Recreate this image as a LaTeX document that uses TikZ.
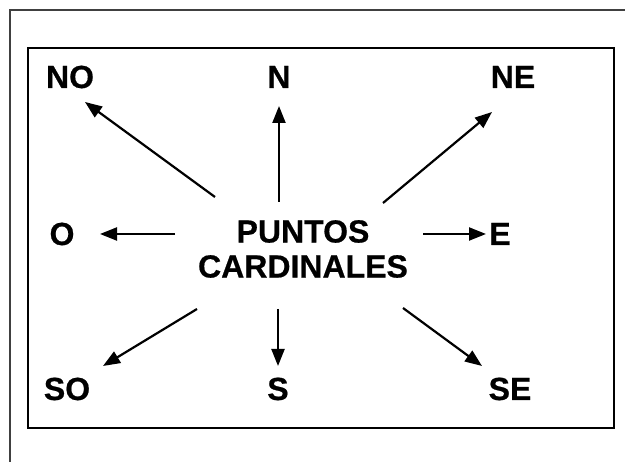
\documentclass[tikz,border=0pt]{standalone}
\usepackage{fontspec}
\setmainfont[BoldFeatures={FakeBold=0.6}]{Liberation Sans}
\usetikzlibrary{arrows.meta}

\begin{document}
\begin{tikzpicture}[x=1pt,y=-1pt,>={Triangle[length=17pt,width=13pt]},
    punto/.style={font=\fontsize{32}{35}\selectfont\bfseries, inner sep=0pt, anchor=base},
    flecha/.style={->, line width=2.2pt}]
        \useasboundingbox (0,0) rectangle (625,462);

        % marcos
        \draw[black!75, line width=1.5pt] (10,462) -- (10,10) -- (625,10);
        \draw[line width=2pt] (28,48) rectangle (614,428);

        % textos
        \node[font=\fontsize{32}{35}\selectfont\bfseries, inner sep=0pt, align=center] (centro) at (303,249) {PUNTOS\\CARDINALES};
        \node[punto] (no) at (70,88) {NO};
        \node[punto] (n) at (279,88) {N};
        \node[punto] (ne) at (513,88) {NE};
        \node[punto] (o) at (62,245) {O};
        \node[punto] (e) at (500,245) {E};
        \node[punto] (so) at (67,400) {SO};
        \node[punto] (s) at (278,400) {S};
        \node[punto] (se) at (510,400) {SE};

        % extremos de las flechas
        \coordinate (noA) at (215,197);
        \coordinate (noB) at (85,102);
        \coordinate (nA) at (279,202);
        \coordinate (nB) at (279,106);
        \coordinate (neA) at (383,203);
        \coordinate (neB) at (492,112);
        \coordinate (oA) at (175,234);
        \coordinate (oB) at (100,234);
        \coordinate (eA) at (423,234);
        \coordinate (eB) at (486,234);
        \coordinate (soA) at (197,309);
        \coordinate (soB) at (103,366);
        \coordinate (sA) at (278,309);
        \coordinate (sB) at (278,366);
        \coordinate (seA) at (403,308);
        \coordinate (seB) at (482,366);

        \foreach \d in {no,n,ne,o,e,so,s,se}
            \draw[flecha] (\d A) -- (\d B);
    \end{tikzpicture}
\end{document}
